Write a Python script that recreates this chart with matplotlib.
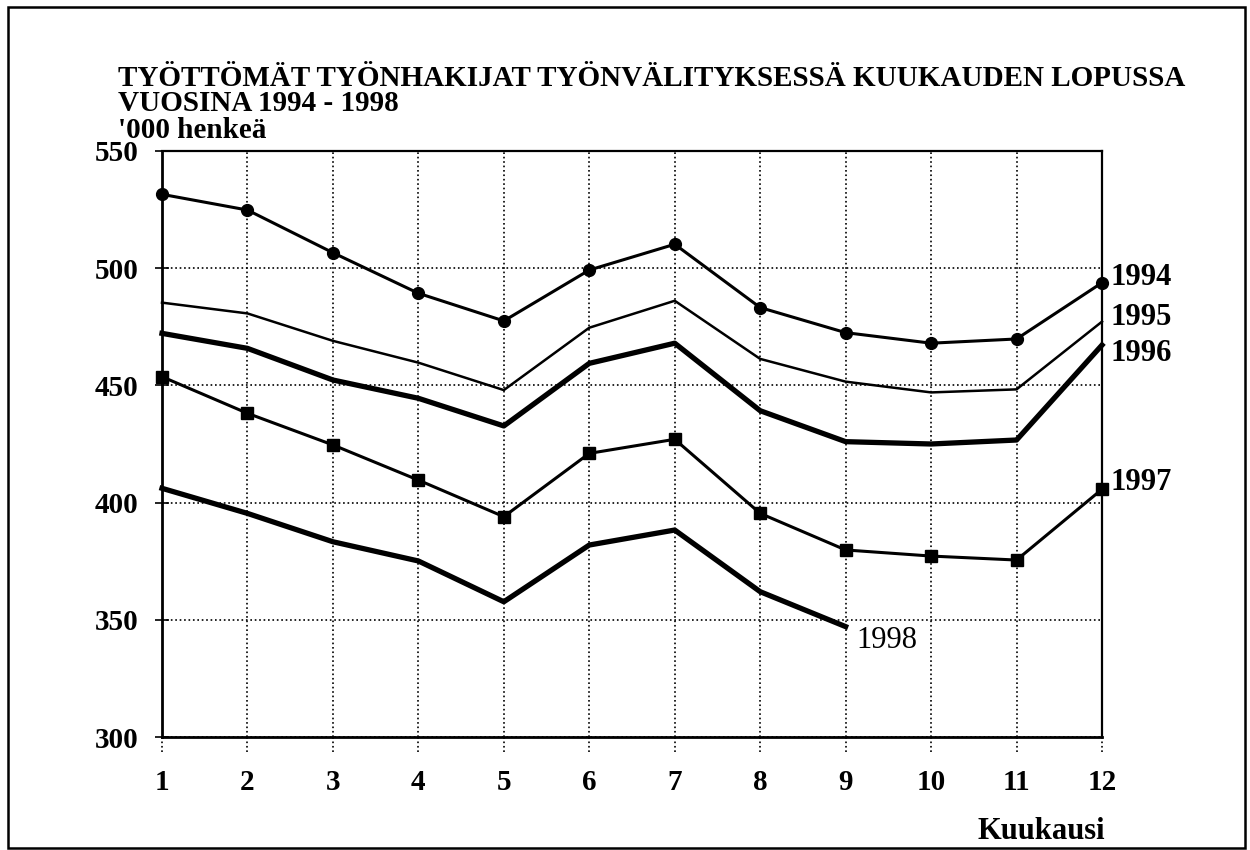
import matplotlib.pyplot as plt
from matplotlib.patches import Rectangle
from matplotlib.transforms import blended_transform_factory

plt.rcParams['font.family'] = ['Liberation Serif', 'DejaVu Serif']
plt.rcParams['font.weight'] = 'bold'

months = list(range(1, 13))

v1994 = [531.5, 524.8, 506.6, 489.3, 477.5, 499.2, 510.2, 483.2, 472.5, 468.0, 469.8, 493.8]
v1995 = [485.3, 480.7, 469.0, 459.7, 448.0, 474.6, 486.1, 461.3, 451.6, 447.0, 448.3, 477.2]
v1996 = [472.2, 465.8, 452.3, 444.5, 432.7, 459.4, 468.0, 439.2, 426.0, 425.0, 426.7, 467.2]
v1997 = [453.7, 438.1, 424.6, 409.6, 394.0, 421.0, 427.0, 395.4, 379.8, 377.2, 375.5, 405.7]
v1998 = [406.1, 395.4, 383.3, 375.1, 357.7, 381.9, 388.3, 362.0, 347.1]

y_ticks = [300, 350, 400, 450, 500, 550]

fig = plt.figure(figsize=(12.5, 8.5), dpi=100)
ax = fig.add_axes([0.1296, 0.1329, 0.752, 0.6895])

# outer frame around the whole picture
fig.patches.append(Rectangle((0.0064, 0.0024), 0.9896, 0.9894, transform=fig.transFigure,
                             fill=False, edgecolor='black', linewidth=1.8))

ax.plot(months, v1994, color='black', lw=2.2, marker='o', markersize=8.5, clip_on=False)
ax.plot(months, v1995, color='black', lw=1.8, clip_on=False)
ax.plot(months, v1996, color='black', lw=3.8, clip_on=False)
ax.plot(months, v1997, color='black', lw=2.2, marker='s', markersize=8, clip_on=False)
ax.plot(months[:len(v1998)], v1998, color='black', lw=3.8, clip_on=False)

ax.set_xlim(1, 12)
ax.set_ylim(300, 550)
ax.set_xticks(months)
ax.set_yticks(y_ticks)
ax.grid(True, color='black', linestyle=':', linewidth=1.2)

# dotted stubs of the month grid below the axis
trans = blended_transform_factory(ax.transData, ax.transAxes)
ax.vlines(months, -0.025, 0, transform=trans, colors='black', linestyles=':',
          linewidth=1.2, clip_on=False)

ax.tick_params(axis='x', length=0, pad=23, labelsize=21)
ax.tick_params(axis='y', direction='inout', length=10, width=1.2, pad=12, labelsize=21)
for lbl in ax.get_xticklabels() + ax.get_yticklabels():
    lbl.set_fontweight('bold')

ax.spines['left'].set_linewidth(2.0)
ax.spines['bottom'].set_linewidth(2.0)
ax.spines['top'].set_linewidth(1.6)
ax.spines['right'].set_linewidth(1.6)

# series labels at line ends
ax.annotate('1994', (12, v1994[-1]), xytext=(6, 4), textcoords='offset points',
            fontsize=22, va='center', ha='left', annotation_clip=False)
ax.annotate('1995', (12, v1995[-1]), xytext=(6, 3), textcoords='offset points',
            fontsize=22, va='center', ha='left', annotation_clip=False)
ax.annotate('1996', (12, v1996[-1]), xytext=(6, -6), textcoords='offset points',
            fontsize=22, va='center', ha='left', annotation_clip=False)
ax.annotate('1997', (12, v1997[-1]), xytext=(6, 5), textcoords='offset points',
            fontsize=22, va='center', ha='left', annotation_clip=False)
ax.annotate('1998', (9, v1998[-1]), xytext=(8, -10), textcoords='offset points',
            fontsize=22, va='center', ha='left', fontweight='normal')

fig.text(0.0944, 0.908, 'TYÖTTÖMÄT TYÖNHAKIJAT TYÖNVÄLITYKSESSÄ KUUKAUDEN LOPUSSA',
         fontsize=21, va='center', ha='left')
fig.text(0.0944, 0.878, 'VUOSINA 1994 - 1998', fontsize=21, va='center', ha='left')
fig.text(0.0944, 0.847, "'000 henkeä", fontsize=21, va='center', ha='left')
fig.text(0.884, 0.022, 'Kuukausi', fontsize=22, va='center', ha='right')

fig.savefig('out.png', dpi=100)
